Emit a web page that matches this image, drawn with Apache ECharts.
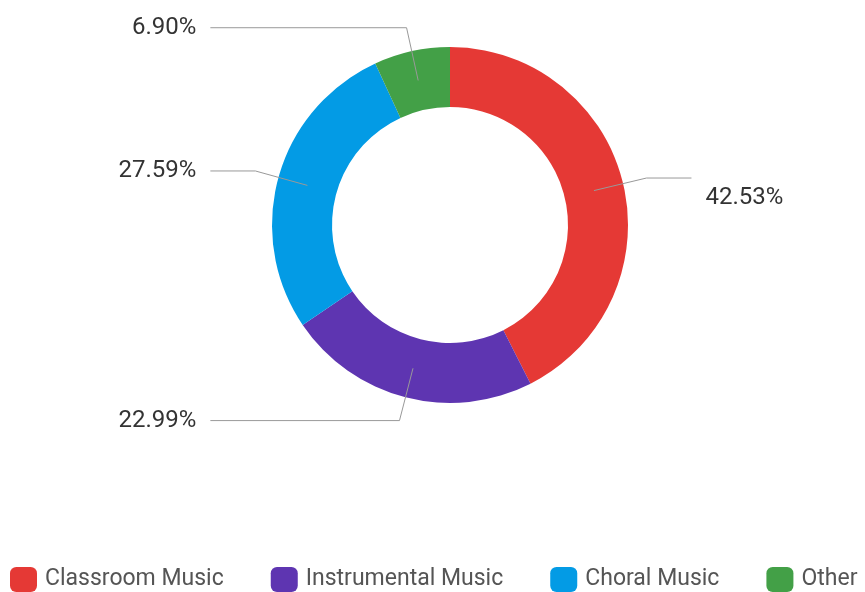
<!DOCTYPE html>
<html>
<head>
<meta charset="utf-8">
<script src="https://cdn.jsdelivr.net/npm/echarts@6/dist/echarts.min.js"></script>
<style>
  html, body { margin: 0; padding: 0; background: #fff; }
  #chart { width: 865px; height: 592px; }
</style>
</head>
<body>
<div id="chart"></div>
<script>
// Music programme areas and respondent counts
const categories = ['Classroom Music', 'Instrumental Music', 'Choral Music', 'Other'];
const counts = [37, 20, 24, 6];
const colors = ['#e53935', '#5e35b1', '#039be5', '#43a047'];

const FONT = 'Roboto, "Noto Sans", sans-serif';
const total = counts.reduce((a, b) => a + b, 0);

const ringData = categories.map((name, i) => ({
  name,
  value: counts[i],
  itemStyle: { color: colors[i] }
}));

// A transparent pie at mid-ring radius carries the percentage labels,
// so leader lines begin in the middle of each segment.
const labelData = categories.map((name, i) => {
  const item = { name, value: counts[i] };
  if (i === 0) item.label = { lineHeight: 40 };
  return item;
});

const pct = (v) => (v / total * 100).toFixed(2) + '%';

const chart = echarts.init(document.getElementById('chart'), null, { renderer: 'canvas' });

chart.setOption({
  animation: false,
  backgroundColor: '#ffffff',
  legend: {
    data: categories,
    top: 567,
    left: 10,
    padding: 0,
    icon: 'roundRect',
    itemWidth: 27,
    itemHeight: 25,
    itemGap: 47,
    textStyle: { fontFamily: FONT, fontSize: 23, color: '#555555', padding: [0, 0, 0, 3] }
  },
  series: [
    {
      name: 'ring',
      type: 'pie',
      center: [450, 225],
      radius: [118, 178],
      startAngle: 90,
      clockwise: true,
      z: 2,
      silent: true,
      label: { show: false },
      labelLine: { show: false },
      emphasis: { disabled: true },
      data: ringData
    },
    {
      name: 'labels',
      type: 'pie',
      center: [450, 225],
      radius: [0, 148],
      startAngle: 90,
      clockwise: true,
      z: 3,
      silent: true,
      legendHoverLink: false,
      emphasis: { disabled: true },
      itemStyle: { color: 'rgba(0,0,0,0)' },
      label: {
        show: true,
        // the first label sits one line below its leader line
        formatter: (p) => (p.dataIndex === 0 ? '\n' : '') + pct(p.value),
        fontFamily: FONT,
        fontSize: 24,
        color: '#333333',
        alignTo: 'labelLine',
        distanceToLabelLine: 14,
        bleedMargin: 5
      },
      labelLine: {
        show: true,
        length: 54,
        length2: 45,
        lineStyle: { color: '#999999', width: 1 }
      },
      data: labelData
    }
  ]
});
</script>
</body>
</html>
